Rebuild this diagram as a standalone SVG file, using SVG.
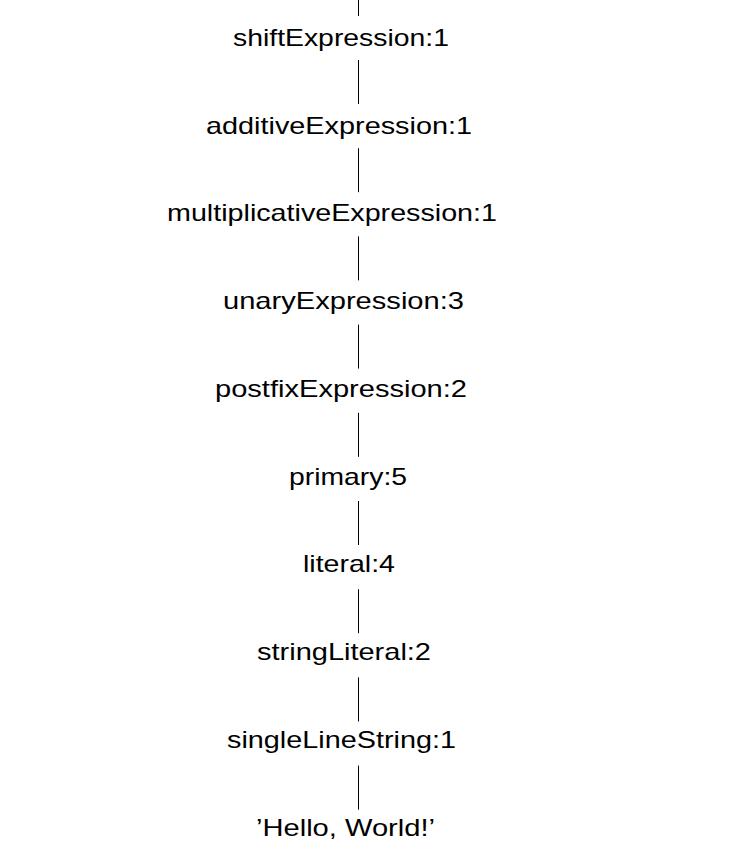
<svg xmlns="http://www.w3.org/2000/svg" width="734" height="854" viewBox="0 0 734 854">
<style>
text{font-family:"Liberation Sans",Arial,sans-serif;font-size:24px;fill:#000}
line{stroke:#000;stroke-width:1}
</style>
<rect width="734" height="854" fill="#fff"/>
<g id="connectors">
<line x1="358.5" y1="0" x2="358.5" y2="16"/>
<line x1="358.5" y1="60" x2="358.5" y2="104"/>
<line x1="358.5" y1="148.2" x2="358.5" y2="192.2"/>
<line x1="358.5" y1="236.4" x2="358.5" y2="280.4"/>
<line x1="358.5" y1="324.6" x2="358.5" y2="368.6"/>
<line x1="358.5" y1="412.8" x2="358.5" y2="456.8"/>
<line x1="358.5" y1="501" x2="358.5" y2="545"/>
<line x1="358.5" y1="589.2" x2="358.5" y2="633.2"/>
<line x1="358.5" y1="677.4" x2="358.5" y2="721.4"/>
<line x1="358.5" y1="765.6" x2="358.5" y2="809.6"/>
</g>
<g id="n_shift"><text x="233" y="45.7" textLength="216" lengthAdjust="spacingAndGlyphs">shiftExpression:1</text></g>
<g id="n_additive"><text x="206" y="133.5" textLength="266" lengthAdjust="spacingAndGlyphs">additiveExpression:1</text></g>
<g id="n_multiplicative"><text x="167" y="221.3" textLength="330" lengthAdjust="spacingAndGlyphs">multiplicativeExpression:1</text></g>
<g id="n_unary"><text x="223" y="309" textLength="241" lengthAdjust="spacingAndGlyphs">unaryExpression:3</text></g>
<g id="n_postfix"><text x="215" y="396.8" textLength="252" lengthAdjust="spacingAndGlyphs">postfixExpression:2</text></g>
<g id="n_primary"><text x="289" y="484.6" textLength="118" lengthAdjust="spacingAndGlyphs">primary:5</text></g>
<g id="n_literal"><text x="303" y="572.4" textLength="92" lengthAdjust="spacingAndGlyphs">literal:4</text></g>
<g id="n_stringLiteral"><text x="257" y="660.2" textLength="174" lengthAdjust="spacingAndGlyphs">stringLiteral:2</text></g>
<g id="n_singleLineString"><text x="227" y="748" textLength="229" lengthAdjust="spacingAndGlyphs">singleLineString:1</text></g>
<g id="n_hello"><text x="256" y="835.7" textLength="179" lengthAdjust="spacingAndGlyphs">’Hello, World!’</text></g>
</svg>
